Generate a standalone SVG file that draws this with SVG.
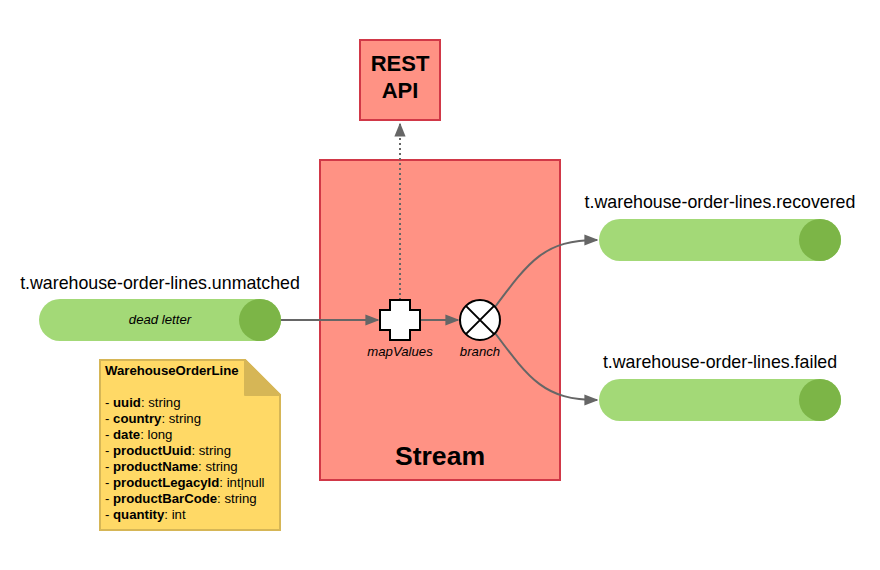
<svg xmlns="http://www.w3.org/2000/svg" width="880" height="570" viewBox="0 0 880 570">
<style>
.box{fill:#FF9284;stroke:#D13847;stroke-width:2}
.pill{fill:#A3D977}
.cap{fill:#7CB547}
.conn{fill:none;stroke:#666;stroke-width:2}
.lbl{font-family:"Liberation Sans",Arial,sans-serif;font-size:17.8px;fill:#000;text-anchor:middle}
.it{font-family:"Liberation Sans",Arial,sans-serif;font-size:13.2px;font-style:italic;fill:#000;text-anchor:middle}
.note{font-family:"Liberation Sans",Arial,sans-serif;font-size:13.2px;fill:#000}
.b{font-weight:bold}
</style>
<defs>
<marker id="ahb" viewBox="0 0 10 10" refX="9" refY="5" markerWidth="14" markerHeight="14" markerUnits="userSpaceOnUse" orient="auto">
<path d="M0,1 L10,5 L0,9 z" fill="#666"/>
</marker>
</defs>
<g id="rest-api">
<rect class="box" x="360" y="40" width="80" height="80"/>
<text class="lbl b" x="400" y="71" style="font-size:22px">REST</text>
<text class="lbl b" x="400" y="98" style="font-size:22px">API</text>
</g>
<g id="stream">
<rect class="box" x="320" y="160" width="240" height="320"/>
<text class="lbl b" x="440" y="465" style="font-size:26.6px">Stream</text>
</g>
<g id="unmatched">
<text class="lbl" x="160" y="289">t.warehouse-order-lines.unmatched</text>
<rect class="pill" x="39" y="299" width="242" height="42" rx="21"/>
<circle class="cap" cx="260" cy="320" r="21"/>
<text class="it" x="160" y="324">dead letter</text>
</g>
<g id="recovered">
<text class="lbl" x="720" y="208">t.warehouse-order-lines.recovered</text>
<rect class="pill" x="599" y="219" width="242" height="42" rx="21"/>
<circle class="cap" cx="820" cy="240" r="21"/>
</g>
<g id="failed">
<text class="lbl" x="720" y="368">t.warehouse-order-lines.failed</text>
<rect class="pill" x="599" y="379" width="242" height="42" rx="21"/>
<circle class="cap" cx="820" cy="400" r="21"/>
</g>
<g id="connectors">
<path class="conn" d="M281,320 L378,320" marker-end="url(#ahb)"/>
<path class="conn" d="M421,320 L458,320" marker-end="url(#ahb)"/>
<path class="conn" d="M400,300 L400,124" stroke-dasharray="2,3" marker-end="url(#ahb)"/>
<path class="conn" d="M495,307 C530,260 545,240 597,240" marker-end="url(#ahb)"/>
<path class="conn" d="M495,333 C530,380 545,400 597,400" marker-end="url(#ahb)"/>
</g>
<g id="mapValues">
<path d="M390,300 H410 V310 H420 V330 H410 V340 H390 V330 H380 V310 H390 Z" fill="#fff" stroke="#000" stroke-width="2"/>
<text class="it" x="400" y="356">mapValues</text>
</g>
<g id="branch">
<circle cx="480" cy="320" r="20" fill="#fff" stroke="#000" stroke-width="2"/>
<path d="M465.9,305.9 L494.1,334.1 M494.1,305.9 L465.9,334.1" stroke="#000" stroke-width="2"/>
<text class="it" x="480" y="356">branch</text>
</g>
<g id="note">
<path d="M100,360 H245 L280,395 V530 H100 Z" fill="#FFD966" stroke="#D6B656" stroke-width="2"/>
<path d="M245,360 V395 H280 Z" fill="#D6B656" stroke="#D6B656" stroke-width="2" stroke-linejoin="round"/>
<text class="note b" x="105" y="375">WarehouseOrderLine</text>
<text class="note" x="105" y="407">- <tspan class="b">uuid</tspan>: string</text>
<text class="note" x="105" y="423">- <tspan class="b">country</tspan>: string</text>
<text class="note" x="105" y="439">- <tspan class="b">date</tspan>: long</text>
<text class="note" x="105" y="455">- <tspan class="b">productUuid</tspan>: string</text>
<text class="note" x="105" y="471">- <tspan class="b">productName</tspan>: string</text>
<text class="note" x="105" y="487">- <tspan class="b">productLegacyId</tspan>: int|null</text>
<text class="note" x="105" y="503">- <tspan class="b">productBarCode</tspan>: string</text>
<text class="note" x="105" y="519">- <tspan class="b">quantity</tspan>: int</text>
</g>
</svg>
